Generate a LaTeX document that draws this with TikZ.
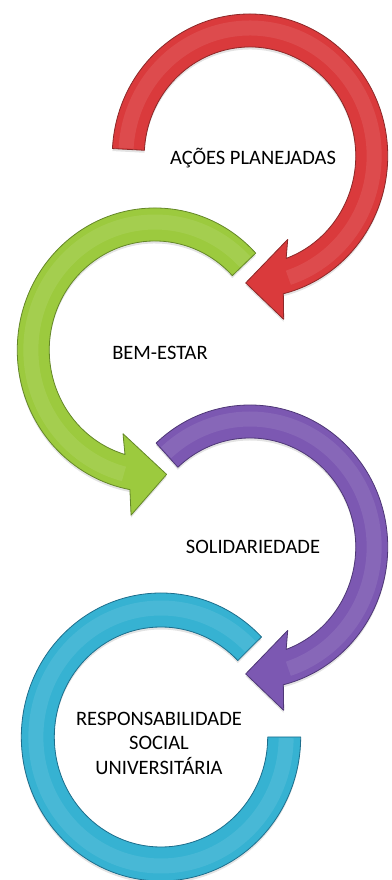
\documentclass[tikz,border=0pt]{standalone}
\usepackage{fontspec}
\setmainfont{Carlito}
\usepackage{tikz}
\usetikzlibrary{shadows}
\definecolor{anelred}{RGB}{218,58,60}
\definecolor{anelredd}{RGB}{140,40,40}
\definecolor{anelgreen}{RGB}{156,202,62}
\definecolor{anelgreend}{RGB}{100,135,40}
\definecolor{anelpurple}{RGB}{124,88,178}
\definecolor{anelpurpled}{RGB}{78,55,118}
\definecolor{anelcyan}{RGB}{54,178,210}
\definecolor{anelcyand}{RGB}{30,110,140}
\tikzset{
	ringbase/.style={line width=0.8pt, line join=round, drop shadow={opacity=0.22, shadow xshift=0pt, shadow yshift=-2.5pt}}
}
\tikzset{
	ringred/.style={ringbase, fill=anelred, draw=anelredd},
	ringgreen/.style={ringbase, fill=anelgreen, draw=anelgreend},
	ringpurple/.style={ringbase, fill=anelpurple, draw=anelpurpled},
	ringcyan/.style={ringbase, fill=anelcyan, draw=anelcyand}
}
\tikzset{
	ringshine/.style={white, opacity=0.09, line width=15pt},
	ringtext/.style={align=center, inner sep=0pt, font=\fontsize{20.5}{24.5}\selectfont}
}

\begin{document}
\begin{tikzpicture}[x=1pt,y=1pt]
			\useasboundingbox (0,0) rectangle (391,880);
			% red: acoes planejadas
			\begin{scope}[shift={(250,724)},xscale=0.97]
				\draw [ringred] (177:142) arc[start angle=177,end angle=-76,radius=142] -- (-78:167) -- (-92:127) -- (-65:92) -- (-70:109) arc[start angle=-70,end angle=177,radius=109] -- cycle;
				\draw [ringshine] (176.5:128) arc[start angle=176.5,end angle=-72,radius=128];
			\end{scope}
			% green: bem-estar
			\begin{scope}[shift={(155,530)},xscale=-0.97]
				\draw [ringgreen] (137:142) arc[start angle=137,end angle=-79.5,radius=142] -- (-81.5:167) -- (-95.5:125) -- (-68.5:90) -- (-73.5:109) arc[start angle=-73.5,end angle=137,radius=109] -- cycle;
				\draw [ringshine] (136.5:128) arc[start angle=136.5,end angle=-75.5,radius=128];
			\end{scope}
			% purple: solidariedade
			\begin{scope}[shift={(250,333)},xscale=0.97]
				\draw [ringpurple] (133:142) arc[start angle=133,end angle=-76,radius=142] -- (-78:167) -- (-92:127) -- (-65:92) -- (-70:109) arc[start angle=-70,end angle=133,radius=109] -- cycle;
				\draw [ringshine] (132.5:128) arc[start angle=132.5,end angle=-72,radius=128];
			\end{scope}
			% cyan: responsabilidade social universitaria
			\begin{scope}[shift={(161,143)},xscale=-0.97]
				\draw [ringcyan] (136:144) arc[start angle=136,end angle=-180,radius=144] -- (-180:110) arc[start angle=-180,end angle=136,radius=110] -- cycle;
				\draw [ringshine] (135.5:129) arc[start angle=135.5,end angle=-179.5,radius=129];
			\end{scope}
			\node[ringtext] (acoes) at (253,722) {AÇÕES PLANEJADAS};
			\node[ringtext] (bemestar) at (160,527) {BEM-ESTAR};
			\node[ringtext] (solidariedade) at (253,333) {SOLIDARIEDADE};
			\node[ringtext] (responsabilidade) at (159,137) {RESPONSABILIDADE\\SOCIAL\\UNIVERSITÁRIA};
		\end{tikzpicture}
\end{document}
